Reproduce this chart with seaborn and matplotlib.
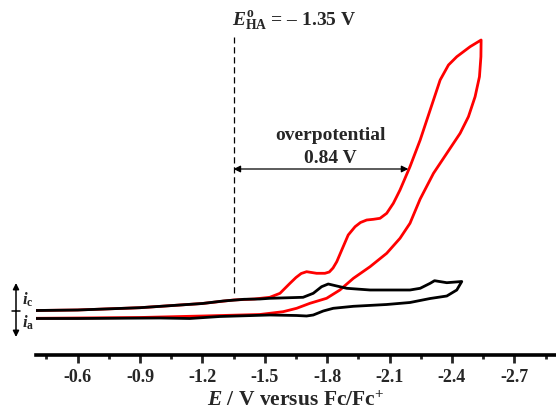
import matplotlib
matplotlib.use("Agg")
import matplotlib.pyplot as plt
from matplotlib.patches import FancyArrowPatch
from matplotlib.lines import Line2D
import numpy as np
import pandas as pd
import seaborn as sns

# Cyclic voltammograms (potential in V vs Fc/Fc+, current in µA, cathodic positive)
# Catalyst + acid (red): forward scan, switching point, return scan
red_E = [-0.40, -0.60, -0.90, -1.20, -1.35, -1.45, -1.524, -1.573, -1.621, -1.650,
         -1.675, -1.701, -1.749, -1.789, -1.810, -1.828, -1.846, -1.870, -1.901,
         -1.934, -1.960, -1.990, -2.022, -2.054, -2.086, -2.118, -2.134, -2.150,
         -2.198, -2.247, -2.295, -2.343, -2.383, -2.423, -2.487, -2.540,
         -2.539, -2.532, -2.511, -2.479, -2.439, -2.375, -2.311, -2.247, -2.198,
         -2.150, -2.086, -2.006, -1.926, -1.861, -1.797, -1.717, -1.653, -1.588,
         -1.524, -1.476, -1.20, -0.90, -0.60, -0.40]
red_i = [0.10, 0.20, 0.66, 1.50, 2.20, 2.40, 2.74, 3.54, 5.54, 6.70,
         7.50, 7.86, 7.54, 7.54, 7.80, 8.60, 9.86, 12.2, 15.2,
         16.86, 17.70, 18.20, 18.34, 18.54, 19.54, 21.54, 22.86, 24.2,
         28.86, 34.2, 40.2, 46.2, 49.2, 50.86, 52.86, 54.2,
         50.86, 46.86, 42.86, 38.86, 35.54, 31.54, 27.54, 22.4, 17.54,
         14.54, 11.54, 8.86, 6.54, 4.20, 2.54, 1.54, 0.54, -0.14,
         -0.46, -0.70, -1.00, -1.30, -1.40, -1.46]

# Catalyst alone (black)
black_E = [-0.40, -0.60, -0.90, -1.20, -1.30, -1.40, -1.476, -1.524, -1.684, -1.733,
           -1.773, -1.805, -1.846, -1.894, -2.006, -2.198, -2.247, -2.295, -2.316,
           -2.375, -2.447,
           -2.423, -2.375, -2.295, -2.198, -2.086, -1.926, -1.829, -1.781, -1.733,
           -1.701, -1.653, -1.524, -1.284, -1.139, -0.995, -0.60, -0.40]
black_i = [0.10, 0.20, 0.66, 1.50, 2.00, 2.34, 2.40, 2.54, 2.74, 3.54,
           4.86, 5.40, 5.00, 4.54, 4.20, 4.20, 4.54, 5.54, 6.06,
           5.66, 5.90,
           4.20, 3.00, 2.50, 1.70, 1.30, 0.94, 0.54, 0.00, -0.80,
           -1.00, -0.90, -0.80, -1.10, -1.50, -1.40, -1.50, -1.50]

tick_values = [-0.6, -0.9, -1.2, -1.5, -1.8, -2.1, -2.4, -2.7]
tick_labels = ["-0.6", "-0.9", "-1.2", "-1.5", "-1.8", "-2.1", "-2.4", "-2.7"]

E_HA = -1.35          # standard potential of the acid
overpotential = 0.84  # V

sns.set_style("white")
plt.rcParams["font.family"] = ["Liberation Serif", "DejaVu Serif"]
plt.rcParams["font.weight"] = "bold"
plt.rcParams["axes.unicode_minus"] = False
plt.rcParams["mathtext.fontset"] = "custom"
plt.rcParams["mathtext.rm"] = "Liberation Serif:bold"
plt.rcParams["mathtext.bf"] = "Liberation Serif:bold"
plt.rcParams["mathtext.it"] = "Liberation Serif:italic:bold"

fig = plt.figure(figsize=(5.56, 4.12), dpi=100)
ax = fig.add_axes([36 / 556, 1 - 355 / 412, 520 / 556, 355 / 412])

df_red = pd.DataFrame({"E": red_E, "i": red_i})
df_black = pd.DataFrame({"E": black_E, "i": black_i})
sns.lineplot(data=df_red, x="E", y="i", sort=False, estimator=None,
             color="#ff0000", lw=2.0, ax=ax)
sns.lineplot(data=df_black, x="E", y="i", sort=False, estimator=None,
             color="black", lw=2.0, ax=ax)
for line in ax.lines:
    line.set_solid_joinstyle("round")
    line.set_solid_capstyle("round")

ax.set_xlim(-0.40, -2.90)
ax.set_ylim(-8.8, 62.2)

for side in ("left", "top", "right"):
    ax.spines[side].set_visible(False)
ax.spines["bottom"].set_linewidth(2.6)
ax.spines["bottom"].set_color("black")

ax.set_yticks([])
ax.set_xticks(tick_values)
ax.set_xticklabels(tick_labels, fontsize=13, fontweight="bold")
ax.set_xticks(np.arange(-0.45, -2.90, -0.3), minor=True)
ax.tick_params(axis="x", which="major", direction="out", length=6, width=2.0,
               pad=4, bottom=True)
ax.tick_params(axis="x", which="minor", direction="out", length=3, width=2.0,
               bottom=True)
ax.set_xlabel(r"$E$ / V versus Fc/Fc$^{+}$", fontsize=15.5, fontweight="bold",
              labelpad=3.5)
ax.set_ylabel("")

# Thermodynamic potential of the acid
ax.plot([E_HA, E_HA], [3.6, 54.8], ls=(0, (5, 3)), color="black", lw=0.9)
ax.text(E_HA + 0.01, 57.9, r"$E^{\rm o}_{\rm HA}$ = – 1.35 V", fontsize=14,
        fontweight="bold", ha="left", va="center")

# Overpotential arrow
arrow_y = 28.4
ax.annotate("", xy=(E_HA - overpotential, arrow_y), xytext=(E_HA, arrow_y),
            arrowprops=dict(arrowstyle="<|-|>", color="black", lw=0.9,
                            mutation_scale=10, shrinkA=0, shrinkB=0))
ax.text(-1.816, 35.0, "overpotential", fontsize=14, fontweight="bold",
        ha="center", va="center")
ax.text(-1.816, 30.5, f"{overpotential:.2f} V", fontsize=14,
        fontweight="bold", ha="center", va="center")

# Current direction indicator
fx = 16 / 556
fy_top, fy_mid, fy_bot = 1 - 283 / 412, 1 - 311 / 412, 1 - 337 / 412
for fy_end in (fy_top, fy_bot):
    fig.add_artist(FancyArrowPatch(
        (fx, fy_mid), (fx, fy_end), transform=fig.transFigure,
        arrowstyle="-|>", mutation_scale=9, color="black", lw=1.1,
        shrinkA=0, shrinkB=0))
fig.add_artist(Line2D([12 / 556, 20 / 556], [fy_mid, fy_mid],
                      transform=fig.transFigure, color="black", lw=1.1))
fig.text(22 / 556, 1 - 300 / 412, r"$i_{\rm c}$", fontsize=12, va="center",
         ha="left")
fig.text(22 / 556, 1 - 323 / 412, r"$i_{\rm a}$", fontsize=12, va="center",
         ha="left")

fig.savefig("out.png", dpi=100)
